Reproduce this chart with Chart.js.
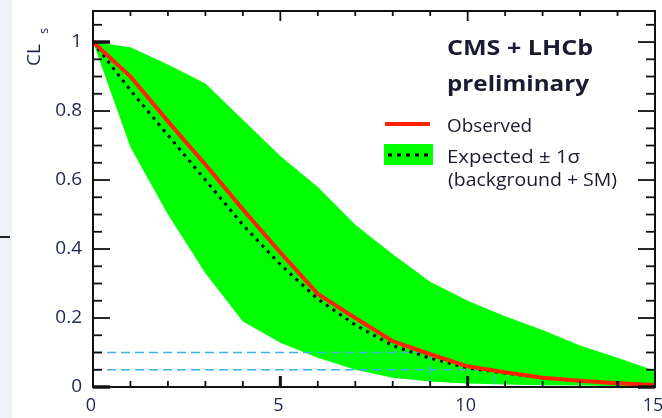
<!DOCTYPE html>
<html>
<head>
<meta charset="utf-8">
<script src="https://cdn.jsdelivr.net/npm/chart.js@4.4.1/dist/chart.umd.min.js"></script>
<style>
  html, body { margin: 0; padding: 0; }
  body {
    width: 662px; height: 418px; overflow: hidden; position: relative;
    background: linear-gradient(to right, #eef1f5 0, #eef1f5 12px, #ffffff 12px);
  }
  #dash { position: absolute; left: 0; top: 236px; width: 10px; height: 2px; background: #222; }
  canvas { position: absolute; left: 0; top: 0; }
</style>
</head>
<body>
<div id="dash"></div>
<canvas id="clsChart" width="662" height="418"></canvas>
<script>
// signal strength (x) and CLs values
const xValues   = [0, 1, 2, 3, 4, 5, 6, 7, 8, 9, 10, 11, 12, 13, 14, 15];
const observed  = [1.0, 0.9, 0.77, 0.645, 0.515, 0.39, 0.27, 0.2, 0.133, 0.095, 0.06, 0.043, 0.027, 0.018, 0.011, 0.006];
const expected  = [1.0, 0.86, 0.73, 0.6, 0.47, 0.355, 0.255, 0.18, 0.12, 0.083, 0.055, 0.04, 0.027, 0.018, 0.011, 0.006];
const bandUpper = [1.0, 0.985, 0.935, 0.88, 0.775, 0.67, 0.58, 0.47, 0.385, 0.305, 0.25, 0.205, 0.165, 0.12, 0.085, 0.047];
const bandLower = [1.0, 0.695, 0.5, 0.33, 0.19, 0.128, 0.085, 0.05, 0.027, 0.016, 0.01, 0.007, 0.005, 0.004, 0.003, 0.003];

// CL levels and where the observed curve crosses them
const clLevels = [0.1, 0.05];
const limitX   = [9.0, 10.7];

const yTickLabels = [0, 0.2, 0.4, 0.6, 0.8, 1];

const navy = '#1e2750';
const pts = arr => xValues.map((x, i) => ({ x: x, y: arr[i] }));

const levelSets = clLevels.map((lvl, i) => ({
    data: [{ x: 0, y: lvl }, { x: limitX[i], y: lvl }, { x: limitX[i], y: 0 }],
    borderColor: '#3fb2e0',
    borderWidth: 1.6,
    borderDash: [9, 5],
    pointRadius: 0,
    fill: false,
}));

const frameTicks = {
    id: 'frameTicks',
    afterDatasetsDraw(chart) {
        const { ctx, chartArea: a, scales: { x, y } } = chart;
        ctx.save();
        ctx.strokeStyle = '#111';
        const seg = (x1, y1, x2, y2, w) => {
            ctx.lineWidth = w;
            ctx.beginPath(); ctx.moveTo(x1, y1); ctx.lineTo(x2, y2); ctx.stroke();
        };
        for (let i = 0; i <= 21; i++) {
            const py = y.getPixelForValue(i * 0.05);
            const major = i % 4 === 0;
            const len = major ? 17 : 9;
            seg(a.left, py, a.left + len, py, (i === 0 || i === 20) ? 3.5 : 1.8);
            seg(a.right, py, a.right - len, py, i === 0 ? 3.5 : 1.8);
        }
        for (let v = 0; v <= 15; v++) {
            const px = x.getPixelForValue(v);
            const major = v % 5 === 0;
            seg(px, a.bottom, px, a.bottom - (major ? 11 : 6), (v === 5 || v === 10 || v === 14) ? 3 : 1.8);
            seg(px, a.top, px, a.top + (major ? 10 : 5), 1.8);
        }
        ctx.lineWidth = 2;
        ctx.strokeRect(a.left, a.top, a.right - a.left, a.bottom - a.top);
        ctx.restore();
    }
};

function fitText(ctx, text, x, y, width) {
    const w = ctx.measureText(text).width;
    ctx.save();
    ctx.translate(x, y);
    ctx.scale(width / w, 1);
    ctx.fillText(text, 0, 0);
    ctx.restore();
}

const legendBox = {
    id: 'legendBox',
    afterDraw(chart) {
        const ctx = chart.ctx;
        ctx.save();
        ctx.textBaseline = 'alphabetic';
        ctx.fillStyle = '#1a1a30';
        ctx.font = 'bold 21px "Open Sans"';
        fitText(ctx, 'CMS + LHCb', 447, 55, 146);
        fitText(ctx, 'preliminary', 447, 91, 142);
        ctx.font = '18px "Open Sans"';
        fitText(ctx, 'Observed', 447, 132, 85);
        fitText(ctx, 'Expected \u00b1 1\u03c3', 447, 163, 133);
        fitText(ctx, '(background + SM)', 448, 186, 169);

        ctx.strokeStyle = '#ff2200';
        ctx.lineWidth = 4;
        ctx.beginPath(); ctx.moveTo(385, 124); ctx.lineTo(430, 124); ctx.stroke();
        ctx.fillStyle = '#00ff00';
        ctx.fillRect(384, 144, 49, 21);
        ctx.strokeStyle = '#000';
        ctx.lineWidth = 3;
        ctx.setLineDash([4, 5]);
        ctx.beginPath(); ctx.moveTo(388, 155); ctx.lineTo(431, 155); ctx.stroke();
        ctx.setLineDash([]);

        // y axis title CL_s
        ctx.fillStyle = navy;
        ctx.translate(40, 66);
        ctx.rotate(-Math.PI / 2);
        ctx.font = '19px "Open Sans"';
        ctx.fillText('CL', 0, 0);
        ctx.font = '13px "Open Sans"';
        ctx.fillText('s', 32, 8);
        ctx.restore();
    }
};

// Chart.js draws dataset 0 on top, so the lines come first and the band last
const ctx = document.getElementById('clsChart').getContext('2d');
new Chart(ctx, {
    type: 'line',
    data: {
        datasets: [
            { data: pts(observed), borderColor: '#ff2200', borderWidth: 4, pointRadius: 0, fill: false },
            { data: pts(expected), borderColor: '#000', borderWidth: 3, borderDash: [3, 5], pointRadius: 0, fill: false },
            ...levelSets,
            { data: pts(bandLower), borderWidth: 0, pointRadius: 0, fill: false, borderColor: 'rgba(0,0,0,0)' },
            { data: pts(bandUpper), borderWidth: 0, pointRadius: 0, fill: '-1', backgroundColor: '#00ff00', borderColor: 'rgba(0,0,0,0)' },
        ]
    },
    options: {
        responsive: false,
        animation: false,
        layout: { padding: { top: 11, right: 7, left: 0, bottom: 0 } },
        elements: { line: { tension: 0 } },
        plugins: {
            legend: { display: false },
            tooltip: { enabled: false },
            filler: { drawTime: 'beforeDatasetsDraw' }
        },
        scales: {
            x: {
                type: 'linear',
                min: 0, max: 15,
                grid: { display: false, drawTicks: false },
                border: { display: false },
                ticks: { stepSize: 5, padding: 8, labelOffset: -2, color: navy, font: { family: 'Open Sans', size: 18 } },
                afterFit: s => { s.height = 31; s.paddingLeft = 0; s.paddingRight = 0; }
            },
            y: {
                min: 0, max: 1.09,
                grid: { display: false, drawTicks: false },
                border: { display: false },
                afterBuildTicks: s => { s.ticks = yTickLabels.map(v => ({ value: v })); },
                ticks: {
                    padding: 11, color: navy, font: { family: 'Open Sans', size: 19 },
                    callback: v => String(+v.toFixed(2))
                },
                afterFit: s => { s.width = 93; s.paddingTop = 0; s.paddingBottom = 0; }
            }
        }
    },
    plugins: [frameTicks, legendBox]
});
</script>
</body>
</html>
